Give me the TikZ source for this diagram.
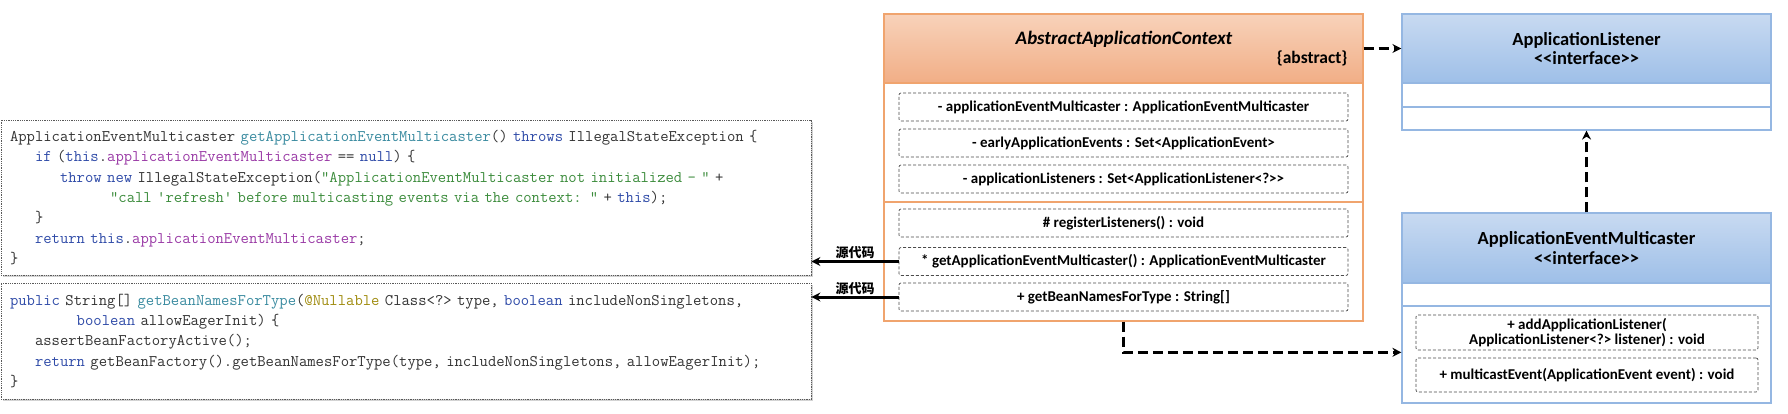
\documentclass[tikz,border=0pt]{standalone}
\usepackage{fontspec}
\setmainfont{Carlito}
\newfontfamily\cjk{Noto Sans CJK SC}
\usetikzlibrary{arrows.meta,positioning,shadows}

\definecolor{ctxTop}{HTML}{F8D2BA}
\definecolor{ctxBot}{HTML}{F1AE86}
\definecolor{ctxLine}{HTML}{F0A46E}
\definecolor{ifTop}{HTML}{C8DAF1}
\definecolor{ifBot}{HTML}{9EBFE8}
\definecolor{ifLine}{HTML}{95B7E2}
\definecolor{kwBlue}{HTML}{2F4BA8}
\definecolor{fnTeal}{HTML}{3A8BA0}
\definecolor{fldPurple}{HTML}{9A3AA6}
\definecolor{strGreen}{HTML}{3C8C3C}
\definecolor{annOlive}{HTML}{A08C10}
\definecolor{codeText}{HTML}{333333}

\newcommand{\jkw}[1]{\textcolor{kwBlue}{#1}}
\newcommand{\jfn}[1]{\textcolor{fnTeal}{#1}}
\newcommand{\jfld}[1]{\textcolor{fldPurple}{#1}}
\newcommand{\jstr}[1]{\textcolor{strGreen}{#1}}
\newcommand{\jann}[1]{\textcolor{annOlive}{#1}}
\newlength{\chw}
\newcommand{\jind}[1]{\settowidth{\chw}{x}\hspace*{#1\chw}}

\begin{document}
\begin{tikzpicture}[x=1pt, y=-1pt,
    code/.style={draw=black!65, densely dotted, line width=0.8pt, fill=white,
        drop shadow={shadow xshift=1.5pt, shadow yshift=-2pt, opacity=0.35},
        text width=792pt, inner xsep=9pt, inner ysep=0pt, align=left, text=codeText,
        font=\ttfamily\fontsize{16.2}{20.4}\selectfont},
    ctx/.style={draw=ctxLine, line width=1.2pt, fill=white, minimum width=479pt, minimum height=307pt, inner sep=0pt},
    ctxhead/.style={draw=ctxLine, line width=1.2pt, top color=ctxTop, bottom color=ctxBot, minimum width=479pt, minimum height=69pt, inner sep=0pt},
    iface/.style={draw=ifLine, line width=1.2pt, fill=white, minimum width=369pt, inner sep=0pt},
    ifacehead/.style={draw=ifLine, line width=1.2pt, top color=ifTop, bottom color=ifBot, minimum width=369pt, minimum height=69pt,
        inner sep=0pt, align=center, font=\bfseries\fontsize{18.5}{19.5}\selectfont},
    member/.style={draw=black!70, densely dashed, line width=0.7pt, rounded corners=2pt, minimum width=449pt, minimum height=28pt,
        inner sep=0pt, align=center, font=\bfseries\fontsize{15}{15}\selectfont},
    dep/.style={line width=3pt, dash pattern=on 10pt off 5pt, -{Stealth[length=9pt, width=9pt]}},
    src/.style={line width=3pt, -{Stealth[length=9pt, width=9pt]}},
    srclbl/.style={font=\cjk\bfseries\fontsize{13}{13}\selectfont, inner sep=1pt}
    ]
    \useasboundingbox (0,0) rectangle (1788,414);

    %Code
    \node[code, minimum height=155pt] at (406,197.5) (code1) {%
ApplicationEventMulticaster \jfn{getApplicationEventMulticaster}() \jkw{throws} IllegalStateException \{\\
\jind{3}\jkw{if} (\jkw{this}.\jfld{applicationEventMulticaster} == \jkw{null}) \{\\
\jind{6}\jkw{throw} \jkw{new} IllegalStateException(\jstr{"ApplicationEventMulticaster not initialized - "} +\\
\jind{12}\jstr{"call 'refresh' before multicasting events via the context: "} + \jkw{this});\\
\jind{3}\}\\
\jind{3}\jkw{return} \jkw{this}.\jfld{applicationEventMulticaster};\\
\}};
    \node[code, minimum height=116pt] at (406,341) (code2) {%
\jkw{public} String[] \jfn{getBeanNamesForType}(\jann{@Nullable} Class<?> type, \jkw{boolean} includeNonSingletons,\\
\jind{8}\jkw{boolean} allowEagerInit) \{\\
\jind{3}assertBeanFactoryActive();\\
\jind{3}\jkw{return} getBeanFactory().getBeanNamesForType(type, includeNonSingletons, allowEagerInit);\\
\}};

    %Class
    \node[ctx] at (1123.5,167.5) (cls) {};
    \node[ctxhead] at (1123.5,48.5) (clsHead) {};
    \node[font=\bfseries\itshape\fontsize{19}{20}\selectfont] at (1124,39) (clsName) {AbstractApplicationContext};
    \node[font=\bfseries\fontsize{17.5}{18}\selectfont, anchor=east] at (1351,58) (clsAbs) {\{abstract\}};
    \draw[ctxLine, line width=1.2pt] (cls.west |- 0,202) -- (cls.east |- 0,202);

    \node[member] at (1123.5,107) (a1) {- applicationEventMulticaster : ApplicationEventMulticaster};
    \node[member] at (1123.5,143) (a2) {- earlyApplicationEvents : Set<ApplicationEvent>};
    \node[member] at (1123.5,179) (a3) {- applicationListeners : Set<ApplicationListener<?>{}>};
    \node[member] at (1123.5,223) (m1) {\# registerListeners() : void};
    \node[member] at (1123.5,261.5) (m2) {* getApplicationEventMulticaster() : ApplicationEventMulticaster};
    \node[member] at (1123.5,297) (m3) {+ getBeanNamesForType : String[]};

    %Interfaces
    \node[iface, minimum height=116pt] at (1586.5,72) (lis) {};
    \node[ifacehead] at (1586.5,48.5) (lisHead) {ApplicationListener\\{<}{<}interface{>}{>}};
    \draw[ifLine, line width=1.2pt] (lis.west |- 0,107) -- (lis.east |- 0,107);

    \node[iface, minimum height=190pt] at (1586.5,308) (multi) {};
    \node[ifacehead, minimum height=70pt] at (1586.5,248) (multiHead) {ApplicationEventMulticaster\\{<}{<}interface{>}{>}};
    \draw[ifLine, line width=1.2pt] (multi.west |- 0,306) -- (multi.east |- 0,306);
    \node[member, minimum width=342pt, minimum height=35pt] at (1587,332.5) (o1) {+ addApplicationListener(\\ApplicationListener<?> listener) : void};
    \node[member, minimum width=342pt, minimum height=34pt] at (1587,375) (o2) {+ multicastEvent(ApplicationEvent event) : void};

    %Lines
    \draw[dep] (clsHead.east) -- (lisHead.west);
    \draw[dep] (cls.south) |- ([yshift=-2pt]o1.south -| multi.west);
    \draw[dep] (multi.north) -- (lis.south);
    \draw[src] (m2.west) -- node[srclbl, above] (lblA) {源代码} (m2.west -| code1.east);
    \draw[src] (m3.west) -- node[srclbl, above] (lblB) {源代码} (m3.west -| code2.east);
\end{tikzpicture}
\end{document}
